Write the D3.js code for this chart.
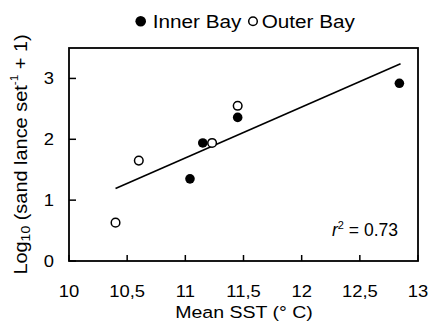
<!DOCTYPE html>
<html lang="en">
<head>
    <meta charset="UTF-8">
    <script src="https://cdn.jsdelivr.net/npm/d3@7"></script>
    <title>SST vs sand lance</title>
    <style>
        body { margin: 0; background: white; }
        text { font-family: 'Liberation Sans', Arial, sans-serif; fill: #000; }
    </style>
</head>
<body>
    <div id="chart"></div>
    <script>
        // Data
        const innerSST = [11.04, 11.15, 11.45, 12.84];
        const innerLog = [1.35, 1.94, 2.36, 2.92];
        const outerSST = [10.4, 10.6, 11.23, 11.45];
        const outerLog = [0.63, 1.65, 1.94, 2.55];
        // regression line end points
        const fitSST = [10.4, 12.85];
        const fitLog = [1.19, 3.24];
        const xTicks = [10, 10.5, 11, 11.5, 12, 12.5, 13];
        const xTickLabels = ["10", "10,5", "11", "11,5", "12", "12,5", "13"];
        const yTicks = [0, 1, 2, 3];
        const seriesNames = ["Inner Bay", "Outer Bay"];
        const r2Label = "0.73";

        const width = 432, height = 330;

        const svg = d3.select("#chart").append("svg")
            .attr("width", width)
            .attr("height", height);

        const x = d3.scaleLinear().domain([10, 13]).range([69, 418]);
        const y = d3.scaleLinear().domain([0, 3.5]).range([261, 48]);

        // frame
        svg.append("rect")
            .attr("x", x(10)).attr("y", y(3.5))
            .attr("width", x(13) - x(10)).attr("height", y(0) - y(3.5))
            .attr("fill", "none").attr("stroke", "#000").attr("stroke-width", 1.8);

        // ticks (pointing inward)
        svg.selectAll(".xt").data(xTicks).enter().append("line")
            .attr("x1", d => x(d)).attr("x2", d => x(d))
            .attr("y1", y(0)).attr("y2", y(0) - 6)
            .attr("stroke", "#000").attr("stroke-width", 1.5);
        svg.selectAll(".yt").data(yTicks).enter().append("line")
            .attr("x1", x(10)).attr("x2", x(10) + 7)
            .attr("y1", d => y(d)).attr("y2", d => y(d))
            .attr("stroke", "#000").attr("stroke-width", 1.5);

        // tick labels
        svg.selectAll(".xl").data(xTicks).enter().append("text")
            .attr("transform", d => `translate(${x(d)},296.5) scale(1.07,1)`)
            .attr("text-anchor", "middle")
            .style("font-size", "17.2px")
            .text((d, i) => xTickLabels[i]);
        svg.selectAll(".yl").data(yTicks).enter().append("text")
            .attr("transform", d => `translate(54,${y(d) + 6}) scale(1.07,1)`)
            .attr("text-anchor", "end")
            .style("font-size", "17.2px")
            .text(d => d);

        // axis titles
        svg.append("text")
            .attr("transform", "translate(244,318) scale(1.15,1)")
            .attr("text-anchor", "middle")
            .style("font-size", "17px")
            .text("Mean SST (° C)");

        const yTitle = svg.append("text")
            .attr("transform", `translate(26.5,${(y(0) + y(3.5)) / 2}) rotate(-90) scale(1.12,1)`)
            .attr("text-anchor", "middle")
            .style("font-size", "17.8px");
        yTitle.append("tspan").text("Log");
        yTitle.append("tspan").attr("dy", 3).style("font-size", "12.5px").text("10");
        yTitle.append("tspan").attr("dy", -3).text(" (sand lance set");
        yTitle.append("tspan").attr("dy", -9).style("font-size", "10.5px").text("-1");
        yTitle.append("tspan").attr("dy", 9).text(" + 1)");

        // regression line
        const line = d3.line().x(d => x(d[0])).y(d => y(d[1]));
        svg.append("path")
            .datum(fitSST.map((v, i) => [v, fitLog[i]]))
            .attr("d", line)
            .attr("fill", "none").attr("stroke", "#000").attr("stroke-width", 1.6);

        // points
        svg.selectAll(".inner").data(innerSST).enter().append("circle")
            .attr("cx", d => x(d)).attr("cy", (d, i) => y(innerLog[i]))
            .attr("r", 4.8).attr("fill", "#000");
        svg.selectAll(".outer").data(outerSST).enter().append("circle")
            .attr("cx", d => x(d)).attr("cy", (d, i) => y(outerLog[i]))
            .attr("r", 4.3).attr("fill", "#fff")
            .attr("stroke", "#000").attr("stroke-width", 1.5);

        // r^2
        const r2 = svg.append("text")
            .attr("transform", "translate(398,236)")
            .attr("text-anchor", "end")
            .style("font-size", "17.5px");
        r2.append("tspan").style("font-style", "italic").text("r");
        r2.append("tspan").attr("dy", -7).style("font-size", "11px").text("2");
        r2.append("tspan").attr("dy", 7).text(" = " + r2Label);

        // legend
        svg.append("circle").attr("cx", 140.7).attr("cy", 21.3).attr("r", 5.3).attr("fill", "#000");
        svg.append("text")
            .attr("transform", "translate(152.7,28.3) scale(1.12,1)")
            .style("font-size", "18.5px")
            .text(seriesNames[0]);
        svg.append("circle").attr("cx", 253).attr("cy", 21.3).attr("r", 4.3)
            .attr("fill", "#fff").attr("stroke", "#000").attr("stroke-width", 1.5);
        svg.append("text")
            .attr("transform", "translate(261.7,28.3) scale(1.12,1)")
            .style("font-size", "18.5px")
            .text(seriesNames[1]);
    </script>
</body>
</html>
